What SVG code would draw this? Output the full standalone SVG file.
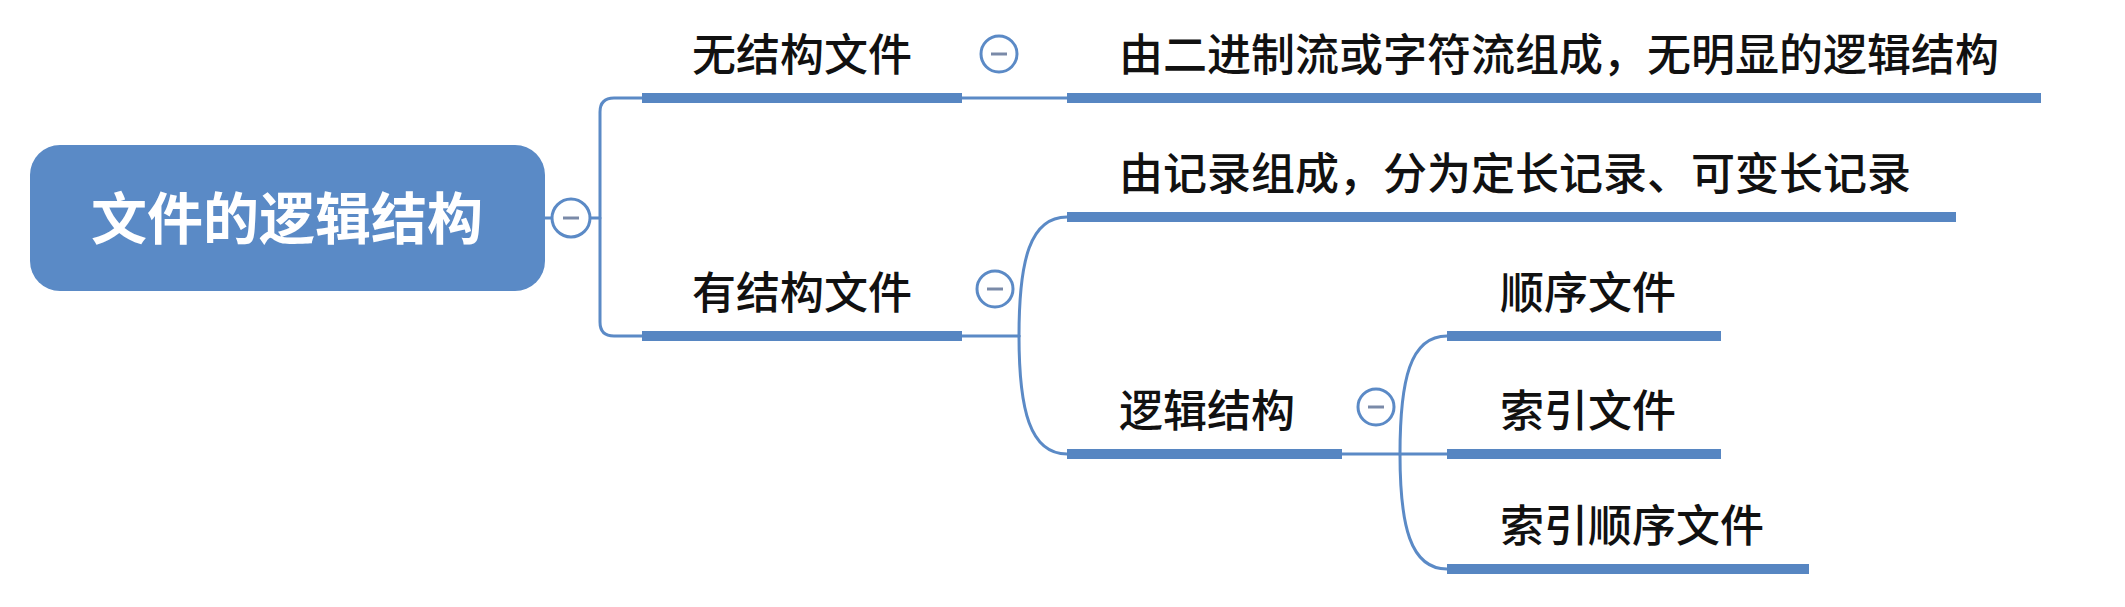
<svg xmlns="http://www.w3.org/2000/svg" width="2125" height="607" viewBox="0 0 2125 607">
<style>
.bar{stroke:#5786c2;stroke-width:10;fill:none}
.ln{stroke:#5b8ac6;stroke-width:3;fill:none;stroke-linecap:round}
.t{font-family:"Noto Sans CJK SC","Noto Sans",sans-serif;font-size:44px;font-weight:500;fill:#111111}
.rt{font-family:"Noto Sans CJK SC","Noto Sans",sans-serif;font-size:56px;font-weight:bold;fill:#ffffff}
.cc{fill:#ffffff;stroke:#5b8ac6;stroke-width:3}
.mn{stroke:#7a8aa8;stroke-width:3}
</style>
<rect width="2125" height="607" fill="#ffffff"/>
<g id="connectors">
<path class="ln" d="M545 218 H600"/>
<path class="ln" d="M642 98 H614 Q600 98 600 112 V322 Q600 336 614 336 H642"/>
<path class="ln" d="M962 98 H1067"/>
<path class="ln" d="M962 336 H1019"/>
<path class="ln" d="M1019 336 C1019 260 1030 217 1067 217"/>
<path class="ln" d="M1019 336 C1019 410 1030 454 1067 454"/>
<path class="ln" d="M1342 454 H1447"/>
<path class="ln" d="M1400 454 C1400 380 1410 336 1447 336"/>
<path class="ln" d="M1400 454 C1400 525 1410 569 1447 569"/>
</g>
<g id="root">
<rect x="30" y="145" width="515" height="146" rx="30" fill="#5a8ac6"/>
<text class="rt" x="287" y="239" text-anchor="middle">文件的逻辑结构</text>
<circle class="cc" cx="571" cy="218" r="19"/><line class="mn" x1="563" y1="218" x2="579" y2="218"/>
</g>
<g id="n1">
<line class="bar" x1="642" y1="98" x2="962" y2="98"/>
<text class="t" x="692" y="71">无结构文件</text>
<circle class="cc" cx="999" cy="54" r="18"/><line class="mn" x1="991" y1="54" x2="1007" y2="54"/>
</g>
<g id="n1a">
<line class="bar" x1="1067" y1="98" x2="2041" y2="98"/>
<text class="t" x="1119" y="71">由二进制流或字符流组成，无明显的逻辑结构</text>
</g>
<g id="n2">
<line class="bar" x1="642" y1="336" x2="962" y2="336"/>
<text class="t" x="692" y="309">有结构文件</text>
<circle class="cc" cx="995" cy="289" r="18"/><line class="mn" x1="987" y1="289" x2="1003" y2="289"/>
</g>
<g id="n2a">
<line class="bar" x1="1067" y1="217" x2="1956" y2="217"/>
<text class="t" x="1119" y="190">由记录组成，分为定长记录、可变长记录</text>
</g>
<g id="n2b">
<line class="bar" x1="1067" y1="454" x2="1342" y2="454"/>
<text class="t" x="1119" y="427">逻辑结构</text>
<circle class="cc" cx="1376" cy="407" r="18"/><line class="mn" x1="1368" y1="407" x2="1384" y2="407"/>
</g>
<g id="c1">
<line class="bar" x1="1447" y1="336" x2="1721" y2="336"/>
<text class="t" x="1500" y="309">顺序文件</text>
</g>
<g id="c2">
<line class="bar" x1="1447" y1="454" x2="1721" y2="454"/>
<text class="t" x="1500" y="427">索引文件</text>
</g>
<g id="c3">
<line class="bar" x1="1447" y1="569" x2="1809" y2="569"/>
<text class="t" x="1500" y="542">索引顺序文件</text>
</g>
</svg>
